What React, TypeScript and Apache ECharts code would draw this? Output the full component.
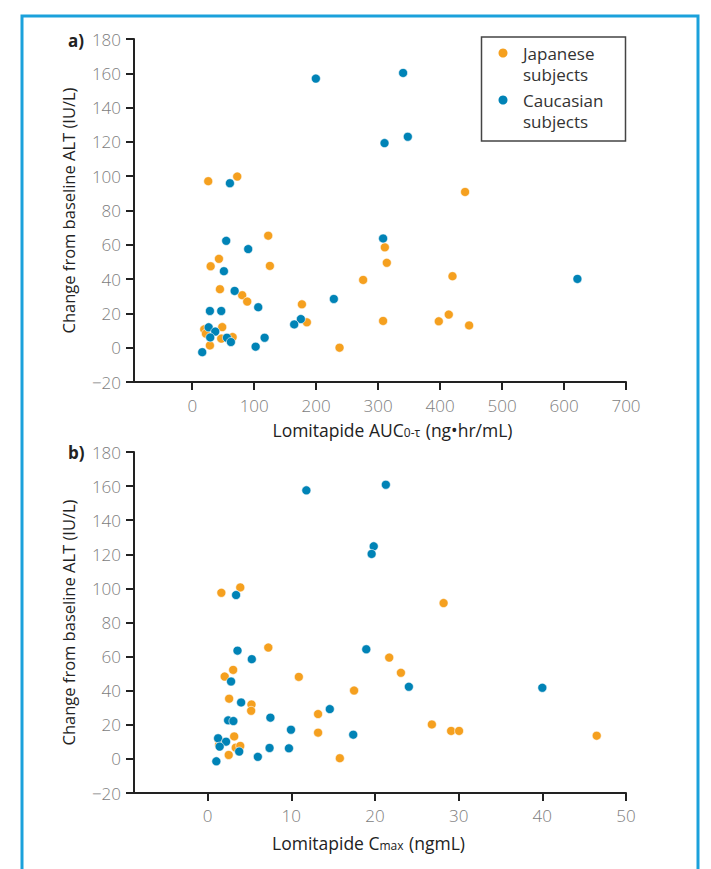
import React, { useEffect, useRef } from "react";
import * as echarts from "echarts";

// Panel a) Lomitapide AUC0-τ (ng•hr/mL) vs change from baseline ALT (IU/L)
const japaneseAuc = [25.8, 72.6, 440.3, 420, 414, 397.9, 446.8, 122.6, 43.1, 29.7, 125.3, 44.7, 80.6, 88.7, 19.4, 22.1, 48.4, 46.8, 65.2, 28.5, 177, 185, 237.7, 275.8, 310.8, 314, 308];
const japaneseAucAlt = [97.1, 99.8, 90.8, 41.7, 19.3, 15.4, 13.0, 65.3, 51.8, 47.5, 47.7, 34.1, 30.6, 26.9, 10.7, 8.2, 12.0, 5.3, 6.2, 1.3, 25.3, 14.8, 0, 39.5, 58.5, 49.5, 15.6];
const caucasianAuc = [60.8, 199.5, 340.3, 310.3, 347.9, 621.6, 54.8, 90.3, 51.1, 68.4, 106.5, 28.5, 46.8, 26.5, 37.1, 29, 56, 62.4, 16.1, 102.3, 116.8, 228.5, 175.3, 164.5, 308];
const caucasianAucAlt = [95.9, 156.9, 160.2, 119.3, 123, 40.1, 62.3, 57.5, 44.6, 33.1, 23.6, 21.4, 21.4, 11.9, 9.4, 6.0, 5.8, 3.3, -2.6, 0.6, 5.8, 28.4, 16.7, 13.6, 63.7];

// Panel b) Lomitapide Cmax (ngmL) vs change from baseline ALT (IU/L)
const japaneseCmax = [1.64, 3.9, 28.2, 7.25, 21.7, 23.1, 3.05, 2.04, 10.9, 17.5, 2.57, 5.24, 5.2, 13.2, 26.8, 29.1, 30.05, 13.2, 1.3, 1.37, 3.17, 3.36, 3.9, 2.52, 15.8, 46.5];
const japaneseCmaxAlt = [97.4, 100.6, 91.4, 65.3, 59.4, 50.5, 52.2, 48.3, 48.1, 40.1, 35.3, 31.9, 28.2, 26.3, 20.2, 16.4, 16.4, 15.4, 11.5, 8.2, 13.2, 6.6, 7.6, 2.3, 0.4, 13.6];
const caucasianCmax = [11.8, 21.3, 19.85, 19.6, 3.4, 3.57, 5.28, 18.96, 24.05, 2.8, 4.0, 14.6, 7.5, 2.45, 3.08, 9.96, 17.4, 1.25, 2.2, 1.44, 3.77, 1.04, 6.0, 7.4, 9.72, 40.0];
const caucasianCmaxAlt = [157.5, 160.8, 124.7, 120.2, 96.1, 63.5, 58.5, 64.3, 42.3, 45.4, 33.1, 29.2, 24.2, 22.6, 22.2, 17.1, 14.2, 12.1, 10.1, 7.2, 4.3, -1.4, 1.2, 6.4, 6.2, 41.7];

const aucTicks = [0, 100, 200, 300, 400, 500, 600, 700];
const cmaxTicks = [0, 10, 20, 30, 40, 50];
const seriesNames = ["Japanese subjects", "Caucasian subjects"];
const legendLines = [["Japanese", "subjects"], ["Caucasian", "subjects"]];

const ORANGE = "#f5a01f";
const BLUE = "#0083b6";
const FONT = '"Open Sans", Lato, sans-serif';

const zip = (xs: number[], ys: number[]) => xs.map((x, i) => [x, ys[i]]);

export default function App() {
  const ref = useRef<HTMLDivElement>(null);
  useEffect(() => {
    if (!ref.current) return;
    const chart = echarts.init(ref.current, undefined, { renderer: "svg" });
    const axisLine = { show: true, onZero: false, lineStyle: { color: "#222", width: 2 } };
    const axisTick = { show: true, length: 8, lineStyle: { color: "#222", width: 2 } };
    const tickLabel = { color: "#7d7d7d", fontSize: 17, fontFamily: FONT, fontWeight: 300 };
    const yName = "Change from baseline ALT (IU/L)";
    const yAxis = (gi: number) => ({
      type: "value",
      gridIndex: gi,
      min: -20,
      max: 180,
      interval: 20,
      splitLine: { show: false },
      axisLine,
      axisTick,
      axisLabel: { ...tickLabel, margin: 13, formatter: (v: number) => (v < 0 ? "\u2212" + Math.abs(v) : String(v)) },
      name: yName,
      nameLocation: "middle",
      nameGap: 57,
      nameTextStyle: { color: "#222", fontSize: 16.5, fontFamily: FONT },
    });
    const scatter = (name: string, color: string, idx: number, data: number[][]) => ({
      type: "scatter",
      name,
      xAxisIndex: idx,
      yAxisIndex: idx,
      symbol: "circle",
      symbolSize: 9,
      itemStyle: { color, opacity: 1, borderColor: "#fff", borderWidth: 0.6 },
      data,
    });
    const legendText = (text: string, y: number) => ({
      type: "text",
      x: 523,
      y,
      z: 101,
      style: { text, fontSize: 17, fontFamily: FONT, fill: "#333", verticalAlign: "middle" },
    });
    chart.setOption({
      animation: false,
      backgroundColor: "#fff",
      grid: [
        { left: 134, top: 39, width: 492, height: 343 },
        { left: 134, top: 452, width: 492, height: 341 },
      ],
      xAxis: [
        {
          type: "value",
          gridIndex: 0,
          min: -94,
          max: 700,
          splitLine: { show: false },
          axisLine,
          axisTick: { ...axisTick, customValues: aucTicks },
          axisLabel: { ...tickLabel, margin: 15, customValues: aucTicks },
          name: "Lomitapide AUC{sub|0-\u03c4} (ng\u2022hr/mL)",
          nameLocation: "middle",
          nameGap: 39,
          nameTextStyle: {
            color: "#222",
            fontSize: 17.5,
            fontFamily: FONT,
            padding: [0, 0, 0, 25],
            rich: { sub: { fontSize: 12, fontFamily: FONT, color: "#222", padding: [5, 1, 0, 0] } },
          },
        },
        {
          type: "value",
          gridIndex: 1,
          min: -8.8,
          max: 50,
          splitLine: { show: false },
          axisLine,
          axisTick: { ...axisTick, customValues: cmaxTicks },
          axisLabel: { ...tickLabel, margin: 14, customValues: cmaxTicks },
          name: "Lomitapide C{sub|max} (ngmL)",
          nameLocation: "middle",
          nameGap: 41,
          nameTextStyle: {
            color: "#222",
            fontSize: 17.5,
            fontFamily: FONT,
            padding: [0, 23, 0, 0],
            rich: { sub: { fontSize: 12, fontFamily: FONT, color: "#222", padding: [5, 1, 0, 0] } },
          },
        },
      ],
      yAxis: [yAxis(0), yAxis(1)],
      series: [
        scatter(seriesNames[0], ORANGE, 0, zip(japaneseAuc, japaneseAucAlt)),
        scatter(seriesNames[1], BLUE, 0, zip(caucasianAuc, caucasianAucAlt)),
        scatter(seriesNames[0], ORANGE, 1, zip(japaneseCmax, japaneseCmaxAlt)),
        scatter(seriesNames[1], BLUE, 1, zip(caucasianCmax, caucasianCmaxAlt)),
      ],
      graphic: [
        {
          type: "rect",
          shape: { x: 22, y: 16, width: 676, height: 900 },
          style: { fill: "none", stroke: "#1ba1db", lineWidth: 3 },
          silent: true,
        },
        { type: "text", x: 68, y: 40, style: { text: "a)", fontSize: 17, fontWeight: "bold", fontFamily: FONT, fill: "#222", verticalAlign: "middle" } },
        { type: "text", x: 68, y: 452, style: { text: "b)", fontSize: 17, fontWeight: "bold", fontFamily: FONT, fill: "#222", verticalAlign: "middle" } },
        {
          type: "rect",
          shape: { x: 481.5, y: 37, width: 144, height: 104 },
          style: { fill: "#fff", stroke: "#444", lineWidth: 1.5 },
          z: 100,
        },
        { type: "circle", shape: { cx: 503, cy: 53, r: 4.5 }, style: { fill: ORANGE }, z: 101 },
        { type: "circle", shape: { cx: 503, cy: 100, r: 4.5 }, style: { fill: BLUE }, z: 101 },
        legendText(legendLines[0][0], 53),
        legendText(legendLines[0][1], 74),
        legendText(legendLines[1][0], 100),
        legendText(legendLines[1][1], 121),
      ],
    });
    return () => chart.dispose();
  }, []);
  return <div ref={ref} style={{ position: "fixed", left: 0, top: 0, width: 711, height: 869 }} />;
}
